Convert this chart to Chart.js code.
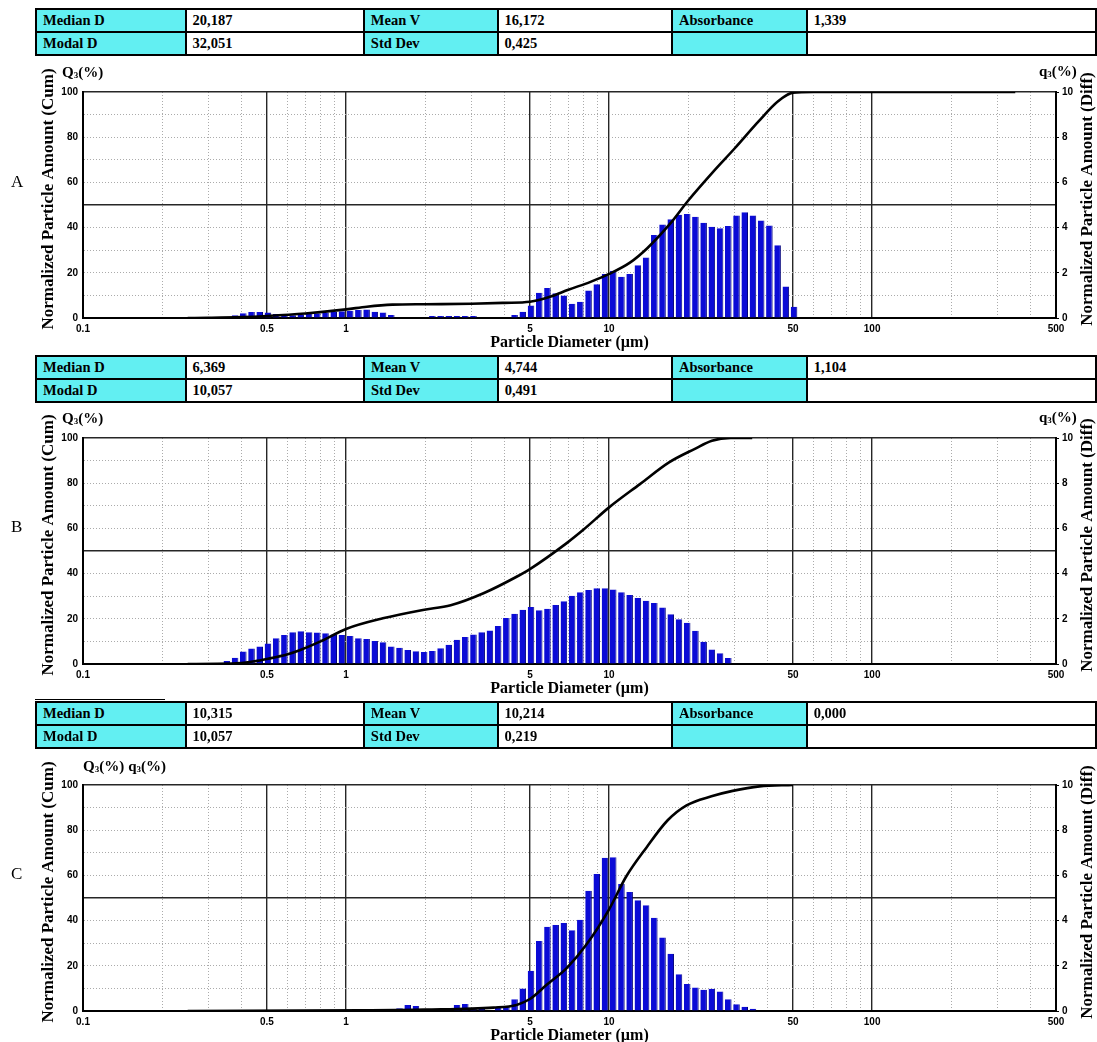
<!DOCTYPE html>
<html>
<head>
<meta charset="utf-8">
<script src="https://cdn.jsdelivr.net/npm/chart.js@4.4.0/dist/chart.umd.min.js"></script>
<style>
  body { margin: 0; background: #fff; width: 1097px; height: 1042px; overflow: hidden; position: relative; font-family: "Liberation Serif", serif; }
  .stats { position: absolute; left: 35px; border-collapse: collapse; table-layout: fixed; font-weight: bold; font-size: 14.5px; }
  .stats td { border: 2px solid #000; height: 21px; padding: 0 0 0 6px; white-space: nowrap; overflow: hidden; }
  .stats td.lab { background: #62eff2; }
  .panel { position: absolute; left: 0; width: 1097px; }
  .tag { position: absolute; left: 11px; font-size: 17px; }
</style>
</head>
<body>
<div class="panel" style="top:58px;height:296px"><canvas id="chartA" width="1097" height="296"></canvas></div>
<div class="panel" style="top:404px;height:298px"><canvas id="chartB" width="1097" height="298"></canvas></div>
<div class="panel" style="top:749px;height:293px"><canvas id="chartC" width="1097" height="293"></canvas></div>
<div id="tables"></div>
<div class="tag" style="top:172px">A</div>
<div class="tag" style="top:517px">B</div>
<div class="tag" style="top:864px">C</div>
<div style="position:absolute;left:35px;top:699px;width:130px;height:1px;background:#000"></div>

<script>
// axis ticks (µm)
const xGrid = [0.1, 0.2, 0.3, 0.4, 0.5, 0.6, 0.7, 0.8, 0.9, 1, 2, 3, 4, 5, 6, 7, 8, 9, 10,
               20, 30, 40, 50, 60, 70, 80, 90, 100, 200, 300, 400, 500];
const xLabels = [0.1, 0.5, 1, 5, 10, 50, 100, 500];
const xMajor = [0.1, 0.5, 1, 5, 10, 50, 100, 500];
const binsPerDecade = 32;

// stats tables
const statNames = ['Median D', 'Modal D', 'Mean V', 'Std Dev', 'Absorbance', ''];
const statsA = ['20,187', '32,051', '16,172', '0,425', '1,339', ''];
const statsB = ['6,369', '10,057', '4,744', '0,491', '1,104', ''];
const statsC = ['10,315', '10,057', '10,214', '0,219', '0,000', ''];

// q3 (differential, %) per channel, first channel index given
const firstBinA = -14;
const q3A = [0.12, 0.21, 0.27, 0.27, 0.24, 0.18, 0.12, 0.12, 0.15, 0.18, 0.21, 0.24, 0.27, 0.30,
             0.32, 0.35, 0.38, 0.28, 0.24, 0.13, 0, 0, 0, 0, 0.09, 0.09, 0.09, 0.09, 0.09, 0.09,
             0, 0, 0, 0, 0.13, 0.28, 0.55, 1.12, 1.33, 1.09, 1.00, 0.63, 0.72, 1.22, 1.49, 1.95,
             2.09, 1.83, 1.95, 2.33, 2.68, 3.67, 4.14, 4.37, 4.57, 4.60, 4.48, 4.22, 4.04, 3.97,
             4.07, 4.54, 4.68, 4.54, 4.31, 4.09, 3.22, 1.39, 0.50];
const firstBinB = -15;
const q3B = [0.13, 0.28, 0.55, 0.69, 0.77, 0.91, 1.14, 1.28, 1.40, 1.45, 1.40, 1.39, 1.36, 1.31,
             1.28, 1.24, 1.14, 1.11, 1.02, 0.96, 0.77, 0.72, 0.62, 0.56, 0.53, 0.58, 0.70, 0.85,
             1.07, 1.20, 1.30, 1.40, 1.48, 1.68, 2.04, 2.22, 2.40, 2.52, 2.38, 2.45, 2.61, 2.78,
             3.02, 3.17, 3.27, 3.35, 3.35, 3.30, 3.18, 3.05, 2.92, 2.80, 2.70, 2.50, 2.20, 1.98,
             1.82, 1.47, 0.98, 0.64, 0.48, 0.27];
const firstBinC = 5;
const q3C = [0.07, 0.12, 0.27, 0.22, 0.04, 0.03, 0.03, 0.03, 0.27, 0.31, 0.12, 0.15, 0, 0.15,
             0.19, 0.52, 1.00, 1.78, 3.10, 3.73, 3.80, 3.89, 3.57, 4.04, 5.32, 6.06, 6.78, 6.80,
             5.62, 5.27, 4.90, 4.68, 4.13, 3.25, 2.53, 1.63, 1.19, 1.04, 0.94, 0.98, 0.86, 0.52,
             0.30, 0.19, 0.10];

// Q3 (cumulative, %)
const cumDA = [0.25, 0.3, 0.4, 0.5, 0.7, 1, 1.2, 1.5, 2, 3, 4, 5, 6, 7, 8.5, 10, 12, 14, 17, 20, 25, 30, 37, 44, 50, 60, 350];
const cumQA = [0, 0.1, 0.4, 0.9, 2.0, 3.8, 5.0, 5.9, 6.1, 6.3, 6.7, 7.2, 9.5, 12.5, 16, 19.5, 24.5, 31, 41.5, 52, 65, 75, 87, 96, 99.7, 100, 100];
const cumDB = [0.25, 0.37, 0.45, 0.5, 0.6, 0.67, 0.8, 1, 1.38, 1.96, 2.5, 3.33, 4.45, 5, 6.9, 8, 10, 13.1, 16.9, 21.1, 24.6, 29, 35];
const cumQB = [0, 0.15, 1.2, 2.2, 4.3, 6.2, 10, 15.5, 20.2, 23.9, 26, 31.3, 38.6, 42, 53.5, 59.5, 69.3, 79.6, 89.2, 95.1, 98.8, 100, 100];
const cumDC = [0.25, 1.13, 2, 3.63, 4.45, 5, 5.79, 6.9, 8.2, 10, 11.6, 13.9, 16.7, 19.7, 24.5, 29.5, 37.3, 50];
const cumQC = [0, 0.3, 0.6, 1.5, 2.7, 5.3, 11.6, 19, 29.4, 45, 59.4, 72.5, 84.4, 91, 95, 97.4, 99.4, 100];

const tickFont = { family: 'Liberation Sans', weight: 'bold', size: 10 };

function buildTable(top, values) {
    const t = document.createElement('table');
    t.className = 'stats';
    t.style.top = top + 'px';
    const widths = [153, 184, 137, 180, 137, 300];
    const cg = document.createElement('colgroup');
    widths.forEach(w => { const c = document.createElement('col'); c.style.width = w + 'px'; cg.appendChild(c); });
    t.appendChild(cg);
    for (let r = 0; r < 2; r++) {
        const tr = document.createElement('tr');
        for (let c = 0; c < 3; c++) {
            const i = c * 2 + r;
            const l = document.createElement('td');
            l.className = 'lab';
            l.textContent = statNames[i];
            const v = document.createElement('td');
            v.textContent = values[i];
            tr.appendChild(l);
            tr.appendChild(v);
        }
        t.appendChild(tr);
    }
    document.getElementById('tables').appendChild(t);
}

function drawQ(ctx, letter, x, y) {
    ctx.font = 'bold 15px "Liberation Serif"';
    ctx.fillText(letter, x, y);
    let w = ctx.measureText(letter).width;
    ctx.font = 'bold 9px "Liberation Serif"';
    ctx.fillText('3', x + w, y + 3);
    w += ctx.measureText('3').width;
    ctx.font = 'bold 15px "Liberation Serif"';
    ctx.fillText('(%)', x + w, y);
    return w + ctx.measureText('(%)').width;
}

const panelText = {
    id: 'panelText',
    afterDraw(chart, args, opts) {
        const { ctx, chartArea: a } = chart;
        const midY = (a.top + a.bottom) / 2 - 6;
        ctx.save();
        ctx.fillStyle = '#000';
        ctx.textBaseline = 'middle';
        ctx.textAlign = 'center';
        ctx.font = 'bold 17px "Liberation Serif"';
        ctx.save();
        ctx.translate(a.left - 34, midY);
        ctx.rotate(-Math.PI / 2);
        ctx.fillText('Normalized Particle Amount (Cum)', 0, 0);
        ctx.restore();
        ctx.save();
        ctx.translate(a.right + 32, midY);
        ctx.rotate(-Math.PI / 2);
        ctx.fillText('Normalized Particle Amount (Diff)', 0, 0);
        ctx.restore();
        ctx.font = 'bold 16px "Liberation Serif"';
        ctx.fillText('Particle Diameter (\u00b5m)', (a.left + a.right) / 2, a.bottom + 25);
        ctx.textAlign = 'left';
        if (opts.combined) {
            const w = drawQ(ctx, 'Q', a.left, a.top - 18);
            drawQ(ctx, 'q', a.left + w + 4, a.top - 18);
        } else {
            drawQ(ctx, 'Q', a.left - 21, a.top - 19);
            drawQ(ctx, 'q', a.right - 17, a.top - 20);
        }
        ctx.restore();
    }
};

function makePanel(id, firstBin, q3, cumD, cumQ, padTop, padBottom, combined) {
    const bars = q3.map((v, i) => ({ x: Math.pow(10, (firstBin + i + 0.5) / binsPerDecade), y: v }));
    const cum = cumD.map((d, i) => ({ x: d, y: cumQ[i] }));
    const tv = c => (c.tick ? c.tick.value : null);
    new Chart(document.getElementById(id), {
        type: 'bar',
        data: {
            datasets: [{
                type: 'line',
                data: cum,
                yAxisID: 'y',
                borderColor: '#000',
                borderWidth: 2.6,
                pointRadius: 0,
                cubicInterpolationMode: 'monotone',
                order: 0
            }, {
                type: 'bar',
                data: bars,
                yAxisID: 'yR',
                backgroundColor: '#0b0bd6',
                borderColor: '#03037c',
                borderWidth: { left: 0, right: 1, top: 0, bottom: 0 },
                borderSkipped: 'bottom',
                categoryPercentage: 1,
                barPercentage: 0.8,
                order: 1
            }]
        },
        options: {
            responsive: false,
            animation: false,
            layout: { padding: { left: 53, right: 19, top: padTop, bottom: padBottom } },
            plugins: {
                legend: { display: false },
                tooltip: { enabled: false },
                panelText: { combined: combined }
            },
            scales: {
                x: {
                    type: 'logarithmic',
                    min: 0.1,
                    max: 500,
                    offset: false,
                    afterBuildTicks: s => { s.ticks = xGrid.map(v => ({ value: v })); },
                    afterFit: s => { s.height = 16; },
                    ticks: {
                        autoSkip: false,
                        maxRotation: 0,
                        padding: 5,
                        color: '#000',
                        font: tickFont,
                        callback: v => (xLabels.includes(v) ? String(v) : '')
                    },
                    grid: {
                        offset: false,
                        drawTicks: false,
                        color: c => (xMajor.includes(tv(c)) ? '#262626' : '#ababab'),
                        lineWidth: c => (xMajor.includes(tv(c)) ? 1.4 : 1)
                    },
                    border: {
                        color: '#000',
                        width: 2,
                        dash: c => (c.tick && !xMajor.includes(c.tick.value) ? [1, 2] : [])
                    }
                },
                y: {
                    position: 'left',
                    min: 0,
                    max: 100,
                    afterFit: s => { s.width = 30; },
                    ticks: {
                        stepSize: 10,
                        padding: 5,
                        color: '#000',
                        font: tickFont,
                        callback: v => (v % 20 === 0 ? v : '')
                    },
                    grid: {
                        drawTicks: false,
                        color: c => ([0, 50, 100].includes(tv(c)) ? '#262626' : '#ababab'),
                        lineWidth: c => ([0, 50, 100].includes(tv(c)) ? 1.6 : 1)
                    },
                    border: {
                        color: '#000',
                        width: 2,
                        dash: c => (c.tick && ![0, 50, 100].includes(c.tick.value) ? [1, 2] : [])
                    }
                },
                yR: {
                    position: 'right',
                    min: 0,
                    max: 10,
                    afterFit: s => { s.width = 22; },
                    ticks: {
                        stepSize: 2,
                        padding: 3,
                        color: '#000',
                        font: tickFont
                    },
                    grid: { drawOnChartArea: false, drawTicks: true, tickLength: 3, tickColor: '#000' },
                    border: { color: '#000', width: 2 }
                }
            }
        },
        plugins: [panelText]
    });
}

buildTable(8, statsA);
buildTable(355, statsB);
buildTable(701, statsC);

makePanel('chartA', firstBinA, q3A, cumDA, cumQA, 34, 20, false);
makePanel('chartB', firstBinB, q3B, cumDB, cumQB, 34, 22, false);
makePanel('chartC', firstBinC, q3C, cumDC, cumQC, 36, 15, true);
</script>
</body>
</html>
